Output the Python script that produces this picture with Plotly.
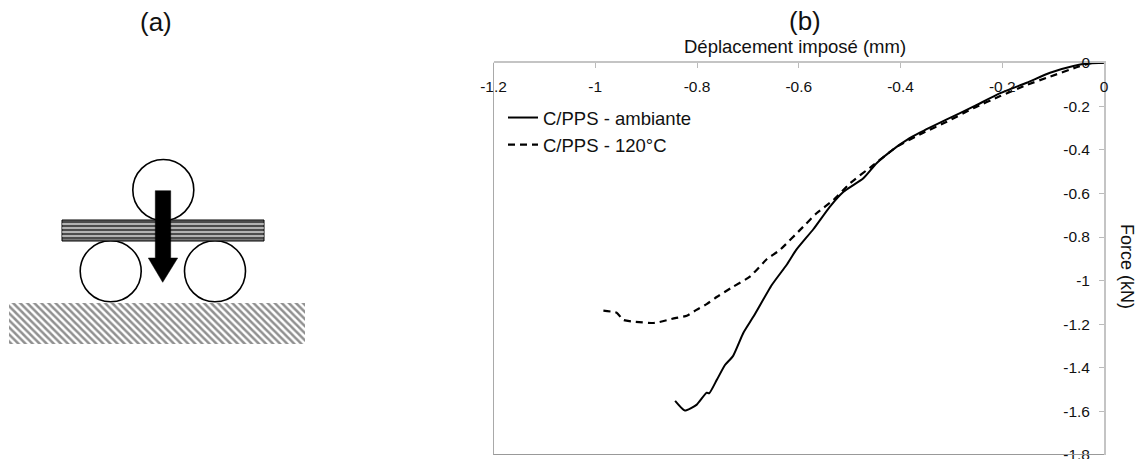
import plotly.graph_objects as go

W, H = 1142, 459

x_ticks = [-1.2, -1, -0.8, -0.6, -0.4, -0.2, 0]
x_ticktext = ["-1.2", "-1", "-0.8", "-0.6", "-0.4", "-0.2", "0"]
y_ticks = [0, -0.2, -0.4, -0.6, -0.8, -1, -1.2, -1.4, -1.6, -1.8]
y_ticktext = ["0", "-0.2", "-0.4", "-0.6", "-0.8", "-1", "-1.2", "-1.4", "-1.6", "-1.8"]

amb_x = [-0.843, -0.824, -0.801, -0.781, -0.776, -0.761, -0.745, -0.729, -0.709, -0.689,
         -0.653, -0.624, -0.605, -0.571, -0.539, -0.512, -0.473, -0.447, -0.407, -0.388,
         -0.362, -0.309, -0.257, -0.204, -0.152, -0.106, -0.060, -0.028, 0]
amb_y = [-1.552, -1.596, -1.570, -1.514, -1.517, -1.455, -1.387, -1.345, -1.240, -1.165,
         -1.020, -0.928, -0.859, -0.763, -0.661, -0.592, -0.530, -0.461, -0.385, -0.355,
         -0.321, -0.260, -0.202, -0.140, -0.092, -0.046, -0.015, -0.003, 0]

hot_x = [-0.984, -0.958, -0.945, -0.925, -0.883, -0.843, -0.820, -0.801, -0.781, -0.765,
         -0.729, -0.696, -0.663, -0.637, -0.591, -0.565, -0.532, -0.499, -0.453, -0.407,
         -0.355, -0.309, -0.257, -0.204, -0.152, -0.106, -0.054, -0.028, 0]
hot_y = [-1.138, -1.147, -1.180, -1.188, -1.194, -1.172, -1.161, -1.134, -1.108, -1.081,
         -1.028, -0.982, -0.902, -0.859, -0.752, -0.691, -0.630, -0.553, -0.469, -0.385,
         -0.321, -0.271, -0.209, -0.153, -0.102, -0.064, -0.021, -0.003, 0]

FONT = "Liberation Sans"
INK = "#111111"
fig = go.Figure()

# (a) schematic, drawn on a full-page pixel axis
fig.add_trace(go.Bar(x=[157], y=[41], base=[303], width=[296], xaxis="x2", yaxis="y2",
                     marker=dict(color="white", line=dict(width=0),
                                 pattern=dict(shape="\\", size=5, solidity=0.5, fgcolor="#222222", bgcolor="white")),
                     showlegend=False, hoverinfo="skip"))

shapes = []
def s(**k):
    k.setdefault("xref", "x2"); k.setdefault("yref", "y2")
    shapes.append(k)

for cx, cy in [(163.3, 190), (110.7, 271.3), (215, 271.3)]:
    s(type="circle", x0=cx-30.5, x1=cx+30.5, y0=cy-30.5, y1=cy+30.5, line=dict(color="black", width=1.6))
s(type="rect", x0=62, x1=264, y0=220, y1=241, fillcolor="#777777", line=dict(color="black", width=1))
for yy in [224, 228, 232, 236]:
    s(type="line", x0=62, x1=264, y0=yy, y1=yy, line=dict(color="#eeeeee", width=1))
for yy in [222, 226, 230, 234, 238]:
    s(type="line", x0=62, x1=264, y0=yy, y1=yy, line=dict(color="#222222", width=1))
s(type="path", path="M155.3,190.7 L170.7,190.7 L170.7,258 L177.7,258 L162.7,282.3 L148.3,258 L155.3,258 Z",
  fillcolor="black", line=dict(color="black", width=0.5))

# (b) curves
fig.add_trace(go.Scatter(x=amb_x, y=amb_y, mode="lines", name="C/PPS - ambiante",
                         line=dict(color="black", width=2, shape="spline", smoothing=0.5)))
fig.add_trace(go.Scatter(x=hot_x, y=hot_y, mode="lines", name="C/PPS - 120°C",
                         line=dict(color="black", width=2.2, dash="7px,5px", shape="spline", smoothing=0.5)))
# empty helper trace so the label-only axes are drawn
fig.add_trace(go.Scatter(x=[None], y=[None], xaxis="x3", yaxis="y3", showlegend=False, hoverinfo="skip"))

tick_font = dict(size=15.5, color=INK, family=FONT)
dom_x = [493.5/W, 1104/W]
dom_y = [1-455/H, 1-62.7/H]
fig.update_layout(
    width=W, height=H, autosize=False, margin=dict(l=0, r=0, t=0, b=0),
    paper_bgcolor="white", plot_bgcolor="rgba(0,0,0,0)",
    font=dict(family=FONT, color=INK, size=15),
    shapes=shapes,
    xaxis=dict(domain=dom_x, range=[-1.2, 0], side="top", anchor="y",
               tickvals=x_ticks, ticks="inside", ticklen=5, tickcolor="#bbbbbb",
               showticklabels=False, showgrid=False, zeroline=False,
               showline=True, linecolor="#c4c4c4", linewidth=2),
    yaxis=dict(domain=dom_y, range=[-1.8, 0], side="right", anchor="x",
               tickvals=y_ticks, ticks="inside", ticklen=5, tickcolor="#bbbbbb",
               showticklabels=False, showgrid=False, zeroline=False,
               showline=True, linecolor="#c4c4c4", linewidth=2),
    xaxis3=dict(domain=dom_x, range=[-1.2, 0], side="bottom", anchor="free", position=1-75/H, overlaying="x",
                tickvals=x_ticks, ticktext=x_ticktext, ticks="", showline=False, showgrid=False,
                zeroline=False, tickfont=tick_font, automargin=False, ticklabeloverflow="allow"),
    yaxis3=dict(domain=dom_y, range=[-1.8, 0], side="left", anchor="free", position=1090/W, overlaying="y",
                tickvals=y_ticks, ticktext=y_ticktext, ticks="", showline=False, showgrid=False,
                zeroline=False, tickfont=tick_font, automargin=False, ticklabeloverflow="allow"),
    xaxis2=dict(domain=[0, 1], range=[0, W], visible=False, anchor="y2", fixedrange=True),
    yaxis2=dict(domain=[0, 1], range=[H, 0], visible=False, anchor="x2", fixedrange=True),
    legend=dict(x=503/W, y=1-99/H, xanchor="left", yanchor="top", bgcolor="rgba(0,0,0,0)",
                font=dict(size=18.5, family=FONT, color=INK), itemwidth=30, tracegroupgap=0),
    annotations=[
        dict(text="(a)", x=156, y=22, xref="x2", yref="y2", showarrow=False, font=dict(size=26)),
        dict(text="(b)", x=805, y=21, xref="x2", yref="y2", showarrow=False, font=dict(size=26)),
        dict(text="Déplacement imposé (mm)", x=795, y=46, xref="x2", yref="y2", showarrow=False, font=dict(size=18.5)),
        dict(text="Force (kN)", x=1127, y=266, xref="x2", yref="y2", showarrow=False, textangle=90, font=dict(size=18)),
    ],
)
# left and bottom frame of the plot
fig.add_shape(type="line", xref="x", yref="y domain", x0=-1.2, x1=-1.2, y0=0, y1=1, line=dict(color="#555555", width=1))
fig.add_shape(type="line", xref="x domain", yref="y", x0=0, x1=1, y0=-1.8, y1=-1.8, line=dict(color="#999999", width=2))

fig.write_html("out.html", config=dict(displayModeBar=False),
               post_script="document.body.style.margin='0';document.body.style.overflow='hidden';")
